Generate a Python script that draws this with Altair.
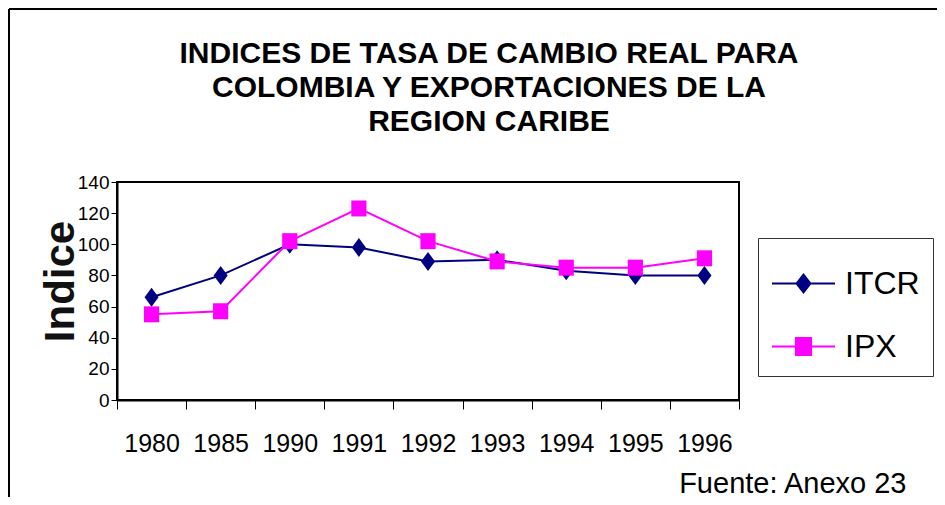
import altair as alt
import pandas as pd

years = ["1980", "1985", "1990", "1991", "1992", "1993", "1994", "1995", "1996"]
itcr = [66, 80, 100, 98, 89, 90, 83, 80, 80]
ipx = [55, 57, 102, 123, 102, 89, 85, 85, 91]
series = ["ITCR", "IPX"]
colors = ["#000080", "#FF00FF"]
y_ticks = [0, 20, 40, 60, 80, 100, 120, 140]
title_lines = [
    "INDICES DE TASA DE CAMBIO REAL PARA",
    "COLOMBIA Y EXPORTACIONES DE LA",
    "REGION CARIBE",
]
y_title = "Indice"
source_note = "Fuente: Anexo 23"

df = pd.DataFrame({
    "year": years * 2,
    "serie": [series[0]] * len(years) + [series[1]] * len(years),
    "value": itcr + ipx,
})

FONT = "Liberation Sans"
DIAMOND = "M0,-1L0.74,0L0,1L-0.74,0Z"
SQUARE = "M-0.8,-0.84H0.8V0.84H-0.8Z"
LEG_DIAMOND = "M-1,0H1M0,-0.28L0.22,0L0,0.28L-0.22,0Z"
LEG_SQUARE = "M-1,0H1M-0.24,-0.27H0.24V0.27H-0.24Z"

x_enc = alt.X(
    "year:N",
    sort=years,
    scale=alt.Scale(type="band", paddingInner=0, paddingOuter=0),
    axis=alt.Axis(
        title=source_note,
        titleFont=FONT,
        titleFontSize=29,
        titleFontWeight="normal",
        titleColor="black",
        titleAlign="right",
        titleBaseline="alphabetic",
        titleX=789,
        titleY=92,
        labelFont=FONT,
        labelFontSize=25,
        labelColor="black",
        labelAngle=0,
        labelPadding=22,
        tickBand="extent",
        tickSize=9,
        tickColor="black",
        domain=True,
        domainColor="black",
        domainWidth=2,
        grid=False,
    ),
)
y_enc = alt.Y(
    "value:Q",
    scale=alt.Scale(domain=[0, 140], nice=False),
    axis=alt.Axis(
        values=y_ticks,
        title=y_title,
        titleFont=FONT,
        titleFontSize=42,
        titleFontWeight="bold",
        titleColor="#111",
        titleAngle=270,
        titleAlign="center",
        titleBaseline="middle",
        titleX=-57,
        titleY=99,
        labelFont=FONT,
        labelFontSize=19,
        labelColor="black",
        labelPadding=2,
        tickSize=6,
        tickColor="black",
        domain=True,
        domainColor="black",
        domainWidth=2,
        grid=False,
    ),
)

base = alt.Chart(df)
color_enc = alt.Color("serie:N", scale=alt.Scale(domain=series, range=colors), legend=None)

lines = base.mark_line(strokeWidth=2).encode(x=x_enc, y=y_enc, color=color_enc)

pts_itcr = base.transform_filter(alt.datum.serie == series[0]).mark_point(
    shape=DIAMOND, size=361, filled=True, opacity=1
).encode(x=x_enc, y=y_enc, color=color_enc)

pts_ipx = base.transform_filter(alt.datum.serie == series[1]).mark_point(
    shape=SQUARE, size=361, filled=True, opacity=1
).encode(x=x_enc, y=y_enc, color=color_enc)

legend_def = alt.Legend(
    title=None,
    orient="none",
    legendX=641,
    legendY=56,
    labelFont=FONT,
    labelFontSize=32,
    labelColor="black",
    labelOffset=9,
    symbolSize=3969,
    symbolStrokeWidth=2,
    padding=13,
    rowPadding=14,
    strokeColor="#333",
)

legend_layer = base.transform_filter("false").mark_point(
    filled=True, opacity=1, strokeWidth=2
).encode(
    x=x_enc, y=y_enc,
    fill=alt.Fill("serie:N", scale=alt.Scale(domain=series, range=colors), sort=series, legend=legend_def),
    stroke=alt.Stroke("serie:N", scale=alt.Scale(domain=series, range=colors), sort=series, legend=legend_def),
    shape=alt.Shape("serie:N", scale=alt.Scale(domain=series, range=[LEG_DIAMOND, LEG_SQUARE]),
                    sort=series, legend=legend_def),
)

frame_df = pd.DataFrame({"k": [0]})
frame_left = alt.Chart(frame_df).mark_rule(color="black", strokeWidth=2).encode(
    x=alt.value(-108), y=alt.value(-173), y2=alt.value(315)
)
frame_top = alt.Chart(frame_df).mark_rule(color="black", strokeWidth=2).encode(
    x=alt.value(-108), x2=alt.value(820), y=alt.value(-173)
)

chart = alt.layer(
    lines, pts_itcr, pts_ipx, legend_layer, frame_left, frame_top
).resolve_scale(
    fill="independent", stroke="independent", shape="independent"
).properties(
    width=622,
    height=218,
    view=alt.ViewBackground(stroke="black", strokeWidth=2, strokeOpacity=1),
    autosize=alt.AutoSizeParams(type="none"),
    padding={"left": 109, "top": 174, "right": 198, "bottom": 97},
    title=alt.TitleParams(
        text=title_lines,
        font=FONT,
        fontSize=30,
        fontWeight="bold",
        color="black",
        lineHeight=34,
        anchor="middle",
        dx=61,
        offset=-129,
    ),
).configure_view(
    stroke="black", strokeWidth=2
).configure(background="white")

chart.save("out.html", embed_options={"renderer": "svg", "actions": False})
